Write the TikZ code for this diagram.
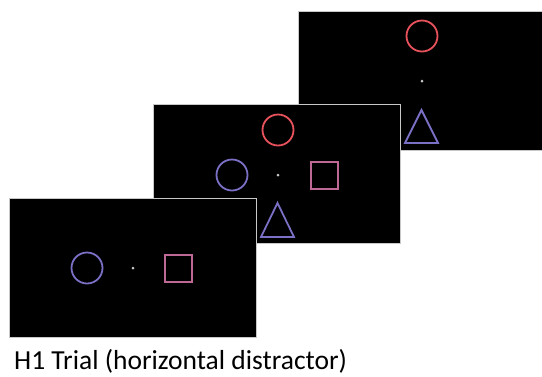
\documentclass[tikz,border=0pt]{standalone}
\usepackage{fontspec}
\setmainfont{Carlito}
\usetikzlibrary{shapes.geometric}
\definecolor{framegray}{RGB}{200,200,200}
\definecolor{cblue}{RGB}{122,112,198}
\definecolor{cpink}{RGB}{190,104,150}
\definecolor{cred}{RGB}{232,82,92}
\definecolor{cdot}{RGB}{200,200,200}
\tikzset{
  screen/.style={rectangle, draw=framegray, fill=black, line width=1pt, minimum width=247pt, minimum height=139pt, anchor=north west, inner sep=0pt},
  circ/.style={circle, draw=#1, line width=1.8pt, minimum size=31pt, inner sep=0pt},
  sq/.style={rectangle, draw=cpink, line width=2pt, minimum size=27pt, inner sep=0pt},
  tri/.style={draw=cblue, line width=1.8pt, line join=miter},
  fix/.style={circle, fill=cdot, minimum size=3pt, inner sep=0pt},
  caption/.style={anchor=base west, inner sep=0pt, font=\fontsize{27.5}{33}\selectfont}
}
\begin{document}
\begin{tikzpicture}[x=1pt,y=-1pt]
\useasboundingbox (0,0) rectangle (542,376);
\clip (0,0) rectangle (542,376);
\fill[white] (0,0) rectangle (542,376);
% back frame
\node[screen] (f1) at (298,11) {};
\node[circ=cred] (f1c) at (422,36) {};
\node[fix] (f1d) at (422,81) {};
\coordinate (f1t1) at (421.5,110);
\coordinate (f1t2) at (405,143);
\coordinate (f1t3) at (438,143);
\draw[tri] (f1t1) -- (f1t2) -- (f1t3) -- cycle;
% middle frame
\node[screen] (f2) at (153,104) {};
\node[circ=cred] (f2c) at (278,130) {};
\node[circ=cblue] (f2b) at (232,175) {};
\node[fix] (f2d) at (278,175) {};
\node[sq] (f2s) at (324,175) {};
\coordinate (f2t1) at (277.5,203);
\coordinate (f2t2) at (261,237);
\coordinate (f2t3) at (294,237);
\draw[tri] (f2t1) -- (f2t2) -- (f2t3) -- cycle;
% front frame
\node[screen] (f3) at (9,198) {};
\node[circ=cblue] (f3b) at (87,268) {};
\node[fix] (f3d) at (133,268) {};
\node[sq] (f3s) at (178,268) {};
\node[caption] (cap) at (14,369) {H1 Trial (horizontal distractor)};
\end{tikzpicture}
\end{document}
